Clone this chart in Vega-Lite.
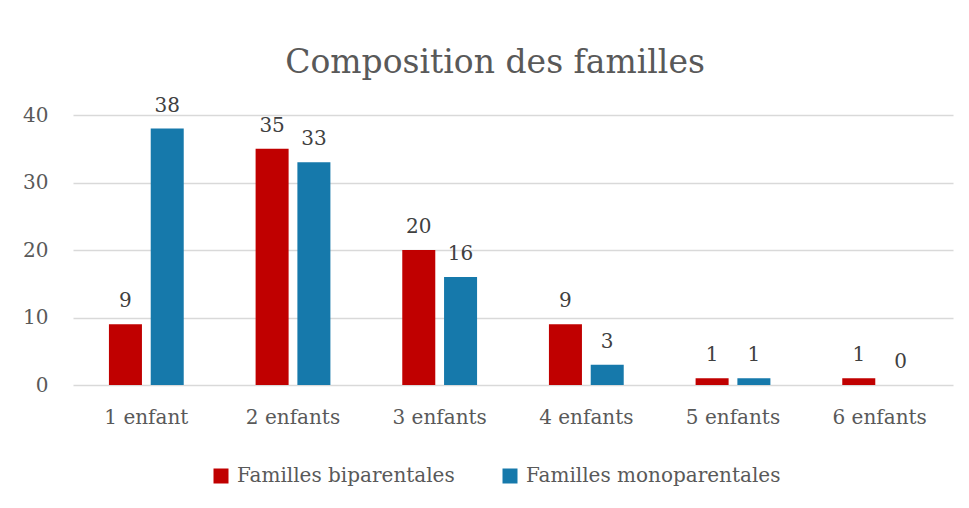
{
  "$schema": "https://vega.github.io/schema/vega-lite/v6.json",
  "autosize": {"type": "none"},
  "width": 880,
  "height": 270,
  "padding": {"left": 73, "top": 115, "right": 16, "bottom": 123},
  "background": "white",
  "title": {
    "text": "Composition des familles",
    "font": "DejaVu Serif",
    "fontSize": 33,
    "fontWeight": "normal",
    "color": "#595959",
    "anchor": "middle",
    "frame": "group",
    "dx": -18,
    "offset": 16
  },
  "data": {
    "values": [
      {"cat": "1 enfant", "serie": "Familles biparentales", "value": 9},
      {"cat": "1 enfant", "serie": "Familles monoparentales", "value": 38},
      {"cat": "2 enfants", "serie": "Familles biparentales", "value": 35},
      {"cat": "2 enfants", "serie": "Familles monoparentales", "value": 33},
      {"cat": "3 enfants", "serie": "Familles biparentales", "value": 20},
      {"cat": "3 enfants", "serie": "Familles monoparentales", "value": 16},
      {"cat": "4 enfants", "serie": "Familles biparentales", "value": 9},
      {"cat": "4 enfants", "serie": "Familles monoparentales", "value": 3},
      {"cat": "5 enfants", "serie": "Familles biparentales", "value": 1},
      {"cat": "5 enfants", "serie": "Familles monoparentales", "value": 1},
      {"cat": "6 enfants", "serie": "Familles biparentales", "value": 1},
      {"cat": "6 enfants", "serie": "Familles monoparentales", "value": 0}
    ]
  },
  "encoding": {
    "x": {
      "field": "cat",
      "type": "nominal",
      "sort": ["1 enfant", "2 enfants", "3 enfants", "4 enfants", "5 enfants", "6 enfants"],
      "scale": {"paddingInner": 0.49, "paddingOuter": 0.245},
      "axis": {
        "title": null,
        "labelAngle": 0,
        "labelFont": "DejaVu Serif",
        "labelFontSize": 20,
        "labelColor": "#595959",
        "labelPadding": 22,
        "domain": false,
        "ticks": false,
        "grid": false
      }
    },
    "xOffset": {
      "field": "serie",
      "type": "nominal",
      "sort": ["Familles biparentales", "Familles monoparentales"],
      "scale": {"paddingInner": 0.21, "paddingOuter": 0}
    },
    "y": {
      "field": "value",
      "type": "quantitative",
      "scale": {"domain": [0, 40], "nice": false},
      "axis": {
        "title": null,
        "values": [0, 10, 20, 30, 40],
        "labelFont": "DejaVu Serif",
        "labelFontSize": 20,
        "labelColor": "#595959",
        "labelPadding": 25,
        "domain": false,
        "ticks": false,
        "grid": true,
        "gridColor": "#D9D9D9",
        "gridWidth": 1.5
      }
    }
  },
  "layer": [
    {
      "mark": {"type": "bar"},
      "encoding": {
        "color": {
          "field": "serie",
          "type": "nominal",
          "sort": ["Familles biparentales", "Familles monoparentales"],
          "scale": {"range": ["#C00000", "#1679AB"]},
          "legend": {
            "title": null,
            "orient": "none",
            "legendX": 138,
            "legendY": 351,
            "direction": "horizontal",
            "symbolType": "square",
            "symbolSize": 225,
            "symbolStrokeWidth": 0,
            "symbolOpacity": 1,
            "labelFont": "DejaVu Serif",
            "labelFontSize": 20,
            "labelColor": "#595959",
            "labelOffset": 6,
            "labelLimit": 0,
            "columnPadding": 45
          }
        }
      }
    },
    {
      "mark": {
        "type": "text",
        "baseline": "alphabetic",
        "dy": -17,
        "font": "DejaVu Serif",
        "fontSize": 20,
        "color": "#404040"
      },
      "encoding": {
        "text": {"field": "value", "type": "quantitative"}
      }
    }
  ],
  "config": {
    "view": {"stroke": null}
  }
}
